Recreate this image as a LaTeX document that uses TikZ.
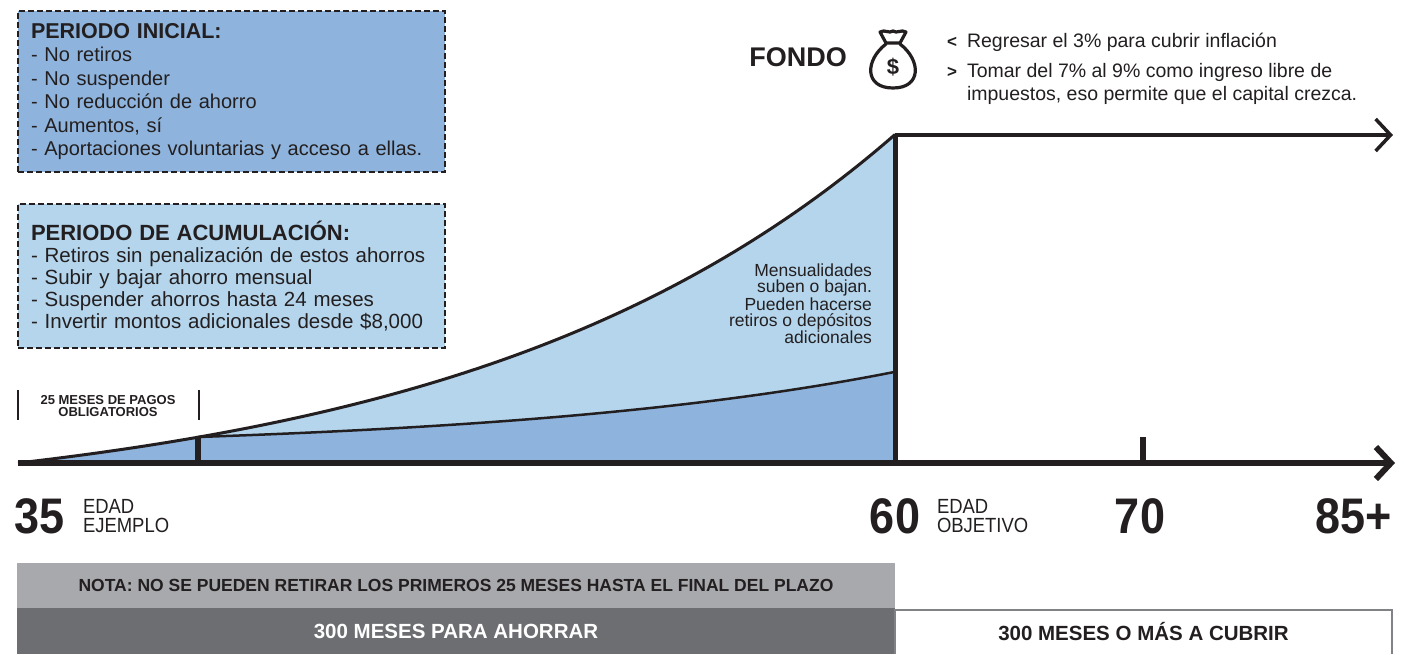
\documentclass[tikz,border=0pt]{standalone}
\usepackage{xcolor}
\usepackage{fontspec}
\setmainfont{Liberation Sans}
\newfontfamily\narrowfont[FakeStretch=0.9]{Liberation Sans}
\usepackage{tikz}
\usetikzlibrary{arrows.meta}
\definecolor{midblue}{HTML}{8EB4DD}
\definecolor{lightblue}{HTML}{B4D5EC}
\definecolor{notegray}{HTML}{A7A9AC}
\definecolor{bargray}{HTML}{6D6E71}
\definecolor{inkgray}{HTML}{231F20}
\definecolor{framegray}{HTML}{808285}

\begin{document}
\begin{tikzpicture}[y=1pt, x=1pt, yscale=-1, inner sep=0pt, outer sep=0pt,
    declare function={fondo(\t)=463-50.2*(exp(0.0023*(\t-18))-1); ahorro(\t)=437-13.8*(exp(0.0025*(\t-198))-1);},
    periodbox/.style={draw=inkgray, line width=2.5pt, dash pattern=on 6pt off 3pt, minimum width=427pt,
      text width=401pt, align=left, text=inkgray, font=\fontsize{20}{23.5}\selectfont},
    agenum/.style={font=\narrowfont\bfseries\fontsize{50}{50}\selectfont, text=inkgray},
    agetag/.style={font=\narrowfont\fontsize{20.5}{18.5}\selectfont, align=left, anchor=west, text=inkgray},
    bartext/.style={font=\bfseries\fontsize{20.5}{20.5}\selectfont, minimum height=45pt, anchor=north west},
    timeline/.style={-{Straight Barb[length=15pt,width=32pt]}}]
  \useasboundingbox (0,0) rectangle (1404,654);
  \coordinate (origin) at (18,463);
  \coordinate (axisend) at (1395,463);
  \coordinate (peak) at (895,135);
  \coordinate (topend) at (1393,135);
  \coordinate (retiro) at (895,463);
  \coordinate (mark25) at (198,437);
  \coordinate (mark25base) at (198,463);
  \coordinate (mark70) at (1143,437);
  \coordinate (mark70base) at (1143,463);

  \path[fill=midblue] (origin) -- plot[domain=18:198,samples=30] (\x,{fondo(\x)}) --
    plot[domain=198:895,samples=60] (\x,{ahorro(\x)}) -- (retiro) -- cycle;
  \path[fill=lightblue] plot[domain=198:895,samples=80] (\x,{fondo(\x)}) --
    plot[domain=895:198,samples=60] (\x,{ahorro(\x)}) -- cycle;
  \draw[inkgray, line width=3pt] plot[domain=18:895,samples=100] (\x,{fondo(\x)});
  \draw[inkgray, line width=2.5pt] plot[domain=198:895,samples=60] (\x,{ahorro(\x)});

  \draw[inkgray, line width=6pt] (mark25) -- (mark25base);
  \draw[inkgray, line width=6pt] (mark70) -- (mark70base);
  \draw[inkgray, line width=5pt] (peak) -- (retiro);
  \draw[inkgray, line width=3.5pt, timeline] (peak) -- (topend);
  \draw[inkgray, line width=6pt, timeline] (origin) -- (axisend);

  \node[periodbox, fill=midblue, minimum height=161pt] (inicial) at (231.5,91.5)
    {{\bfseries\fontsize{21.5}{23.5}\selectfont PERIODO INICIAL:}\\- No retiros\\- No suspender\\- No reducción de ahorro\\- Aumentos, sí\\- Aportaciones voluntarias y acceso a ellas.};
  \node[periodbox, fill=lightblue, minimum height=144pt, font=\fontsize{20.5}{22}\selectfont] (acumulacion) at (231.5,276)
    {{\bfseries\fontsize{22}{22}\selectfont PERIODO DE ACUMULACIÓN:}\\- Retiros sin penalización de estos ahorros\\- Subir y bajar ahorro mensual\\- Suspender ahorros hasta 24 meses\\- Invertir montos adicionales desde \$8,000};

  \draw[inkgray, line width=1.5pt] (18,390) -- (18,420);
  \draw[inkgray, line width=1.5pt] (199,390) -- (199,420);
  \node[align=center, text=inkgray, font=\bfseries\fontsize{13}{12}\selectfont] (obligatorios) at (108,406)
    {25 MESES DE PAGOS\\OBLIGATORIOS};

  \node[anchor=north east, align=right, text=inkgray, font=\fontsize{17.5}{16}\selectfont] (mensualidades) at (872,264)
    {Mensualidades\\suben o bajan.\\Pueden hacerse\\retiros o depósitos\\adicionales};

  \node[text=inkgray, font=\bfseries\fontsize{27}{27}\selectfont] (fondo) at (798,57) {FONDO};
  \path[draw=inkgray, line width=3.2pt, line join=round, line cap=round] (886,44) .. controls (865,60) and (864,88) .. (893,88)
    .. controls (922,88) and (921,60) .. (900,44);
  \path[draw=inkgray, line width=3.2pt, line join=round] (886,43) -- (880,32) .. controls (885,29) and (889,34) .. (893,31)
    .. controls (897,34) and (901,29) .. (906,32) -- (900,43) -- cycle;
  \node[text=inkgray, font=\bfseries\fontsize{22}{22}\selectfont] (dolar) at (893,67) {\$};
  \node[text=inkgray, font=\bfseries\fontsize{17}{17}\selectfont] (menor) at (952,42) {<};
  \node[text=inkgray, font=\bfseries\fontsize{17}{17}\selectfont] (mayor) at (952,72) {>};
  \node[anchor=west, text=inkgray, font=\fontsize{19.5}{23}\selectfont] (regresar) at (967,42)
    {Regresar el 3\% para cubrir inflación};
  \node[anchor=west, align=left, text=inkgray, font=\fontsize{19.5}{23}\selectfont] (tomar) at (967,83.5)
    {Tomar del 7\% al 9\% como ingreso libre de\\impuestos, eso permite que el capital crezca.};

  \node[agenum, anchor=west] (e35) at (14,516) {35};
  \node[agetag] (t35) at (83,516) {EDAD\\EJEMPLO};
  \node[agenum] (e60) at (895,516) {60};
  \node[agetag] (t60) at (937,516) {EDAD\\OBJETIVO};
  \node[agenum] (e70) at (1140,516) {70};
  \node[agenum, anchor=east] (e85) at (1392,516) {85+};

  \node[bartext, fill=notegray, minimum width=878pt, text=inkgray, font=\bfseries\fontsize{17.5}{17.5}\selectfont] (nota) at (17,563)
    {NOTA: NO SE PUEDEN RETIRAR LOS PRIMEROS 25 MESES HASTA EL FINAL DEL PLAZO};
  \node[bartext, fill=bargray, minimum width=878pt, minimum height=46pt, text=white] (ahorrar) at (17,608)
    {300 MESES PARA AHORRAR};
  \node[bartext, minimum width=497pt, minimum height=44pt, text=inkgray] (cubrir) at (895,610)
    {300 MESES O MÁS A CUBRIR};
  \draw[framegray, line width=2pt] (cubrir.south west) |- (cubrir.north east) -- (cubrir.south east);
\end{tikzpicture}
\end{document}
